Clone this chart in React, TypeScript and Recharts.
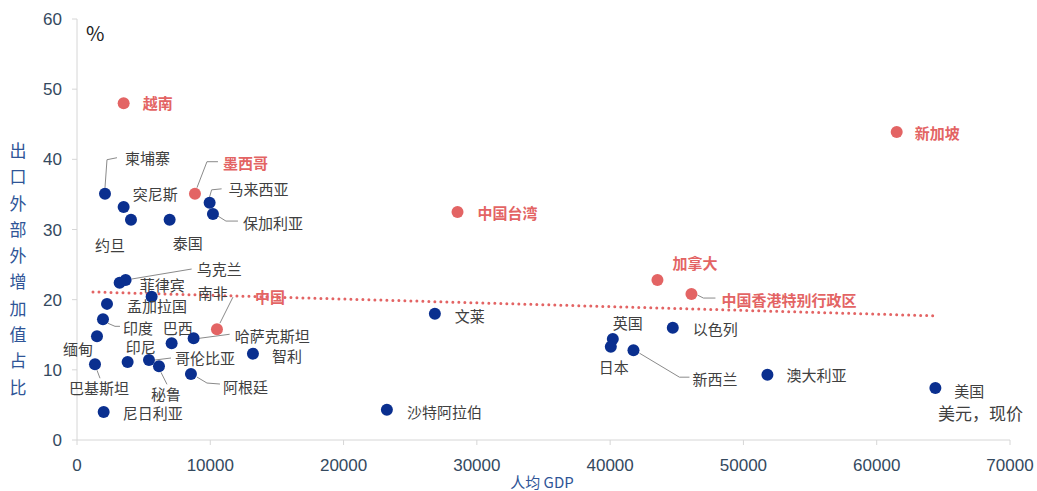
import React from "react";
import { ScatterChart, Scatter, XAxis, YAxis } from "recharts";

// 人均GDP（美元，现价） vs 出口外部外增加值占比（%）
const blueNames = [
  "柬埔寨", "突尼斯", "约旦", "泰国", "马来西亚", "保加利亚", "乌克兰", "菲律宾",
  "南非", "孟加拉国", "印度", "缅甸", "巴西", "哈萨克斯坦", "智利", "印尼",
  "哥伦比亚", "秘鲁", "巴基斯坦", "阿根廷", "尼日利亚", "文莱", "沙特阿拉伯",
  "英国", "日本", "新西兰", "以色列", "澳大利亚", "美国",
];
const blueGdp = [
  2100, 3500, 4050, 6950, 9950, 10200, 3650, 3200,
  5600, 2250, 1950, 1500, 7100, 8750, 13200, 3800,
  5400, 6150, 1350, 8550, 2000, 26850, 23250,
  40200, 40050, 41750, 44700, 51800, 64400,
];
const blueShare = [
  35.1, 33.2, 31.4, 31.4, 33.8, 32.2, 22.8, 22.4,
  20.4, 19.4, 17.2, 14.8, 13.8, 14.5, 12.3, 11.1,
  11.4, 10.5, 10.8, 9.4, 4.0, 18.0, 4.3,
  14.4, 13.3, 12.8, 16.0, 9.3, 7.4,
];

const redNames = ["越南", "新加坡", "墨西哥", "中国台湾", "加拿大", "中国香港特别行政区", "中国"];
const redGdp = [3500, 61500, 8850, 28550, 43550, 46100, 10500];
const redShare = [48.0, 43.9, 35.1, 32.5, 22.8, 20.8, 15.8];

const trendGdp = [1200, 64400];
const trendShare = [21.1, 17.7];

const xTicks = [0, 10000, 20000, 30000, 40000, 50000, 60000, 70000];
const yTicks = [0, 10, 20, 30, 40, 50, 60];

const yTitle = "出口外部外增加值占比";

const blueData = blueNames.map((name, i) => ({ name, gdp: blueGdp[i], share: blueShare[i] }));
const redData = redNames.map((name, i) => ({ name, gdp: redGdp[i], share: redShare[i] }));
const trendData = trendGdp.map((gdp, i) => ({ gdp, share: trendShare[i] }));

// label offsets from the dot centre (px), with optional leader polyline
const LABEL_LAYOUT: Record<string, { dx: number; dy: number; leader?: number[][] }> = {
  柬埔寨: { dx: 20, dy: -36, leader: [[0, -6], [2, -34], [12, -36]] },
  突尼斯: { dx: 9, dy: -14 },
  约旦: { dx: -36, dy: 25 },
  泰国: { dx: 3, dy: 23 },
  马来西亚: { dx: 19, dy: -14, leader: [[0, -6], [2, -13], [12, -14]] },
  保加利亚: { dx: 30, dy: 8, leader: [[5, 2], [13, 7], [25, 7]] },
  乌克兰: { dx: 71, dy: -12, leader: [[6, -1], [66, -11]] },
  菲律宾: { dx: 20, dy: 2 },
  南非: { dx: 46, dy: -4 },
  孟加拉国: { dx: 20, dy: 2 },
  印度: { dx: 20, dy: 8, leader: [[5, 4], [12, 7], [17, 7]] },
  缅甸: { dx: -34, dy: 12 },
  巴西: { dx: -9, dy: -16 },
  哈萨克斯坦: { dx: 41, dy: -3, leader: [[6, 0], [36, -4]] },
  智利: { dx: 19, dy: 2 },
  印尼: { dx: -2, dy: -16 },
  哥伦比亚: { dx: 26, dy: -3, leader: [[6, 0], [22, -2]] },
  秘鲁: { dx: -8, dy: 27, leader: [[2, 6], [8, 18]] },
  巴基斯坦: { dx: -26, dy: 23, leader: [[2, 6], [5, 14]] },
  阿根廷: { dx: 32, dy: 12, leader: [[6, 3], [16, 9], [29, 10]] },
  尼日利亚: { dx: 19, dy: 1 },
  文莱: { dx: 20, dy: 2 },
  沙特阿拉伯: { dx: 20, dy: 2 },
  英国: { dx: 0, dy: -16 },
  日本: { dx: -12, dy: 20 },
  新西兰: { dx: 59, dy: 28, leader: [[6, 3], [46, 27], [56, 27]] },
  以色列: { dx: 20, dy: 1 },
  澳大利亚: { dx: 19, dy: 0 },
  美国: { dx: 19, dy: 2 },
  越南: { dx: 19, dy: -1 },
  新加坡: { dx: 18, dy: 1 },
  墨西哥: { dx: 28, dy: -31, leader: [[2, -6], [12, -32], [23, -32]] },
  中国台湾: { dx: 20, dy: 1 },
  加拿大: { dx: 15, dy: -18 },
  中国香港特别行政区: { dx: 30, dy: 5, leader: [[6, 1], [12, 4], [24, 4]] },
  中国: { dx: 38, dy: -33, leader: [[3, -6], [16, -32]] },
};

const FONT = "'Noto Sans CJK SC', 'Noto Sans', sans-serif";
const BLUE = "#0a2f8f";
const RED = "#e36464";
const AXIS_BLUE = "#2f5597";

function makeShape(fill: string, textColor: string, bold: boolean) {
  return (props: any) => {
    const { cx, cy, payload } = props;
    const lay = LABEL_LAYOUT[payload.name] || { dx: 12, dy: 0 };
    return (
      <g>
        {lay.leader && (
          <polyline
            points={lay.leader.map(([x, y]) => `${cx + x},${cy + y}`).join(" ")}
            fill="none"
            stroke="#8a8a8a"
            strokeWidth={1}
          />
        )}
        <circle cx={cx} cy={cy} r={6} fill={fill} />
        <text
          x={cx + lay.dx}
          y={cy + lay.dy}
          dominantBaseline="central"
          fontSize={15}
          fontWeight={bold ? 700 : 400}
          fill={textColor}
          fontFamily={FONT}
        >
          {payload.name}
        </text>
      </g>
    );
  };
}

export default function App() {
  return (
    <div
      style={{
        position: "absolute",
        left: 0,
        top: 0,
        width: 1037,
        height: 491,
        background: "#fff",
        fontFamily: FONT,
      }}
    >
      <ScatterChart width={1037} height={491} margin={{ top: 19, right: 27, bottom: 21, left: 0 }}>
        <XAxis
          type="number"
          dataKey="gdp"
          domain={[0, 70000]}
          ticks={xTicks}
          interval={0}
          stroke="#d6d6d6"
          tickSize={5}
          tickMargin={14}
          tick={{ fill: "#34495e", fontSize: 17, fontFamily: "'Liberation Sans', sans-serif" }}
        />
        <YAxis
          type="number"
          dataKey="share"
          domain={[0, 60]}
          ticks={yTicks}
          interval={0}
          width={77}
          stroke="#d6d6d6"
          tickSize={5}
          tickMargin={10}
          tick={{ fill: "#34495e", fontSize: 17, fontFamily: "'Liberation Sans', sans-serif" }}
        />
        <Scatter
          data={trendData}
          line={{ stroke: RED, strokeWidth: 3, strokeDasharray: "0 6", strokeLinecap: "round" }}
          shape={() => <g />}
          isAnimationActive={false}
        />
        <Scatter data={blueData} shape={makeShape(BLUE, "#404040", false)} isAnimationActive={false} />
        <Scatter data={redData} shape={makeShape(RED, RED, true)} isAnimationActive={false} />
      </ScatterChart>

      <div style={{ position: "absolute", left: 86, top: 20, fontSize: 20, color: "#222", lineHeight: "26px" }}>%</div>
      <div
        style={{
          position: "absolute",
          left: 8,
          top: 137,
          width: 20,
          fontSize: 17,
          lineHeight: "26.3px",
          color: AXIS_BLUE,
          textAlign: "center",
        }}
      >
        {yTitle.split("").map((c, i) => (
          <div key={i}>{c}</div>
        ))}
      </div>
      <div
        style={{
          position: "absolute",
          left: 442,
          width: 200,
          top: 472,
          textAlign: "center",
          fontSize: 15,
          lineHeight: "20px",
          color: AXIS_BLUE,
        }}
      >
        人均 GDP
      </div>
      <div style={{ position: "absolute", left: 938, top: 402, fontSize: 17, lineHeight: "22px", color: "#404040" }}>
        美元，现价
      </div>
    </div>
  );
}
